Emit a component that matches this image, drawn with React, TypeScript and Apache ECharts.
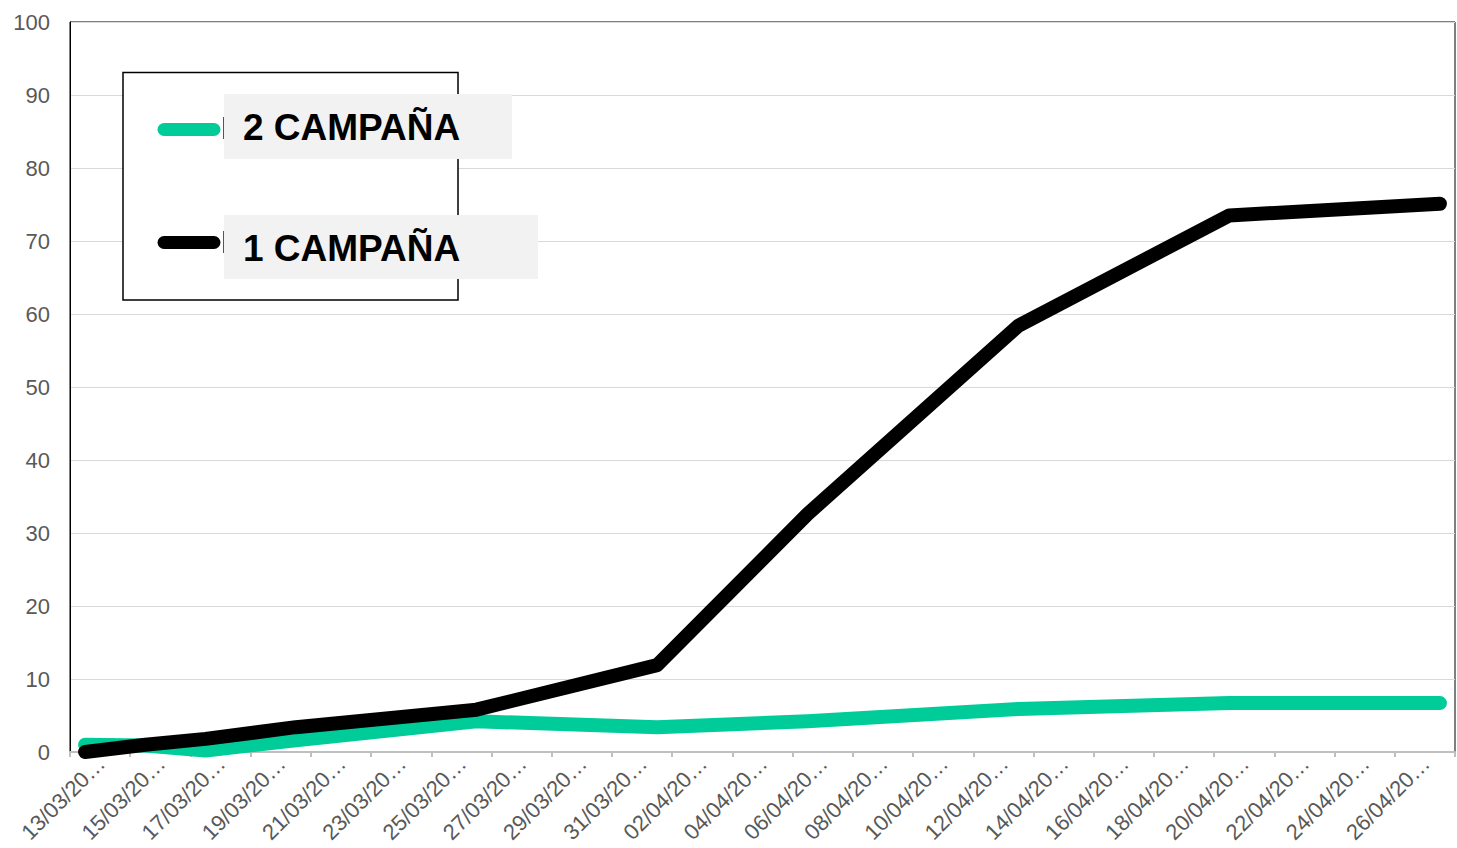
import React, { useEffect, useRef } from "react";
import * as echarts from "echarts";

const categories: string[] = [
  "13/03/2020", "14/03/2020", "15/03/2020", "16/03/2020", "17/03/2020", "18/03/2020",
  "19/03/2020", "20/03/2020", "21/03/2020", "22/03/2020", "23/03/2020", "24/03/2020",
  "25/03/2020", "26/03/2020", "27/03/2020", "28/03/2020", "29/03/2020", "30/03/2020",
  "31/03/2020", "01/04/2020", "02/04/2020", "03/04/2020", "04/04/2020", "05/04/2020",
  "06/04/2020", "07/04/2020", "08/04/2020", "09/04/2020", "10/04/2020", "11/04/2020",
  "12/04/2020", "13/04/2020", "14/04/2020", "15/04/2020", "16/04/2020", "17/04/2020",
  "18/04/2020", "19/04/2020", "20/04/2020", "21/04/2020", "22/04/2020", "23/04/2020",
  "24/04/2020", "25/04/2020", "26/04/2020", "27/04/2020",
];

// Values recorded on sparse dates; gaps are connected
const campana1: (number | null)[] = [
  0, null, 1.0, null, 1.8, null, null, 3.4, null, null, null, null,
  null, 5.8, null, null, null, null, null, 11.9, null, null, null, null,
  32.6, null, null, null, null, null, null, 58.4, null, null, null, null,
  null, null, 73.5, null, null, null, null, null, null, 75.1,
];

const campana2: (number | null)[] = [
  1.0, null, 0.9, null, 0.2, null, null, 1.6, null, null, null, null,
  null, 4.2, null, null, null, null, null, 3.4, null, null, null, null,
  4.2, null, null, null, null, null, null, 5.9, null, null, null, null,
  null, null, 6.7, null, null, null, null, null, null, 6.7,
];

const seriesNames = ["2 CAMPAÑA", "1 CAMPAÑA"];
const seriesColors = ["#00CC99", "#000000"];

export default function App() {
  const ref = useRef<HTMLDivElement>(null);

  useEffect(() => {
    if (!ref.current) return;
    const chart = echarts.init(ref.current, undefined, { renderer: "svg" });
    const font = "'Liberation Sans', Arial, sans-serif";
    chart.setOption({
      animation: false,
      backgroundColor: "#ffffff",
      textStyle: { fontFamily: font },
      grid: {
        left: 70,
        right: 2,
        top: 22,
        bottom: 96,
        show: true,
        borderColor: "#000000",
        borderWidth: 1,
        backgroundColor: "transparent",
        outerBoundsMode: "none",
        containLabel: false,
      },
      xAxis: {
        type: "category",
        data: categories,
        boundaryGap: true,
        axisLine: { lineStyle: { color: "#BFBFBF", width: 2 } },
        axisTick: { show: true, interval: 1, length: 5, lineStyle: { color: "#BFBFBF", width: 2 } },
        axisLabel: {
          interval: 1,
          rotate: 45,
          margin: 24,
          align: "center",
          padding: [0, 62, 0, 0],
          color: "#595959",
          fontSize: 22,
          fontFamily: font,
          hideOverlap: false,
          formatter: (v: string) => v.slice(0, 8) + "…",
        },
        splitLine: { show: false },
      },
      yAxis: {
        type: "value",
        min: 0,
        max: 100,
        interval: 10,
        axisLine: { show: true, lineStyle: { color: "#000000", width: 1 } },
        axisTick: { show: false },
        axisLabel: { color: "#595959", fontSize: 22, margin: 20, fontFamily: font },
        splitLine: { lineStyle: { color: "#D9D9D9", width: 1 } },
      },
      series: [
        {
          name: seriesNames[0],
          type: "line",
          data: campana2,
          connectNulls: true,
          showSymbol: false,
          symbol: "none",
          lineStyle: { color: seriesColors[0], width: 14, cap: "round", join: "round" },
          z: 2,
        },
        {
          name: seriesNames[1],
          type: "line",
          data: campana1,
          connectNulls: true,
          showSymbol: false,
          symbol: "none",
          lineStyle: { color: seriesColors[1], width: 14, cap: "round", join: "round" },
          z: 3,
        },
      ],
      graphic: [
        {
          type: "rect",
          shape: { x: 123, y: 72.5, width: 335, height: 227.5 },
          style: { fill: "#ffffff", stroke: "#000000", lineWidth: 1.5 },
          z: 10,
        },
        {
          type: "rect",
          shape: { x: 224, y: 94, width: 288, height: 65 },
          style: { fill: "#F2F2F2" },
          z: 11,
        },
        {
          type: "rect",
          shape: { x: 224, y: 215, width: 314, height: 64 },
          style: { fill: "#F2F2F2" },
          z: 11,
        },
        {
          type: "line",
          shape: { x1: 164, y1: 129.5, x2: 214, y2: 129.5 },
          style: { stroke: seriesColors[0], lineWidth: 13, lineCap: "round" },
          z: 12,
        },
        {
          type: "line",
          shape: { x1: 164, y1: 242.5, x2: 214, y2: 242.5 },
          style: { stroke: seriesColors[1], lineWidth: 13, lineCap: "round" },
          z: 12,
        },
        {
          type: "line",
          shape: { x1: 223.5, y1: 117, x2: 223.5, y2: 139 },
          style: { stroke: "#555555", lineWidth: 1 },
          z: 12,
        },
        {
          type: "line",
          shape: { x1: 223.5, y1: 231, x2: 223.5, y2: 253 },
          style: { stroke: "#555555", lineWidth: 1 },
          z: 12,
        },
        {
          type: "text",
          x: 243,
          y: 127,
          style: {
            text: seriesNames[0],
            fill: "#000000",
            font: "bold 37px 'Liberation Sans', Arial, sans-serif",
            verticalAlign: "middle",
          },
          z: 13,
        },
        {
          type: "text",
          x: 243,
          y: 248,
          style: {
            text: seriesNames[1],
            fill: "#000000",
            font: "bold 37px 'Liberation Sans', Arial, sans-serif",
            verticalAlign: "middle",
          },
          z: 13,
        },
      ],
    });
    return () => chart.dispose();
  }, []);

  return (
    <div
      ref={ref}
      style={{ position: "absolute", left: 0, top: 0, width: 1457, height: 848 }}
    />
  );
}
